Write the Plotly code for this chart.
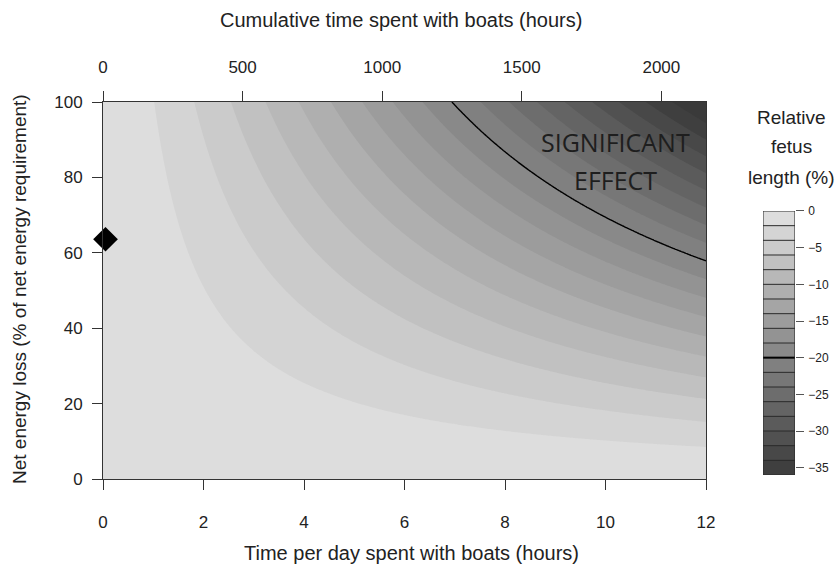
import numpy as np
import plotly.graph_objects as go

# ---------------- data ----------------
x_ticks = [0, 2, 4, 6, 8, 10, 12]                 # time per day (h)
y_ticks = [0, 20, 40, 60, 80, 100]                # net energy loss (%)
top_ticks = [0, 500, 1000, 1500, 2000]            # cumulative hours
cbar_ticks = [0, -5, -10, -15, -20, -25, -30, -35]
season_days = 180                                 # 12 h/day <-> 2160 h on top axis
level_step = 2
z_low, z_high = -36, 0
signif_level = -20
# surface model fitted to the band crossings:
# relative length = -coef * (hours * loss / 100) ** power
coef = 1.955
power = 1.2
obs_time = [0.05]
obs_loss = [63.6]

# ---------------- surface on a grid ----------------
gx = np.linspace(0, 12, 361)
gy = np.linspace(0, 100, 301)
GX, GY = np.meshgrid(gx, gy)
Z = -coef * (GX * GY / 100.0) ** power

gray = [[0.0, "rgb(58,58,58)"], [1.0, "rgb(226,226,226)"]]
FONT = "Liberation Sans, Arial, sans-serif"
AX = "#333333"

fig = go.Figure()
fig.add_trace(go.Contour(
    x=gx, y=gy, z=Z, colorscale=gray, zmin=z_low, zmax=z_high,
    contours=dict(start=z_low, end=z_high, size=level_step,
                  coloring="fill", showlines=False),
    line=dict(width=0), showscale=False, hoverinfo="skip"))
fig.add_trace(go.Contour(
    x=gx, y=gy, z=Z,
    contours=dict(start=signif_level, end=signif_level, size=1,
                  coloring="lines"),
    colorscale=[[0, "black"], [1, "black"]],
    line=dict(width=1.4, color="black"), showscale=False, hoverinfo="skip"))
fig.add_trace(go.Scatter(
    x=obs_time, y=obs_loss, mode="markers",
    marker=dict(symbol="diamond", size=19, color="black"),
    cliponaxis=False, hoverinfo="skip", showlegend=False))
# invisible trace carrying the top (cumulative) axis
fig.add_trace(go.Scatter(
    x=[0, 12 * season_days], y=[0, 0], xaxis="x2", yaxis="y",
    mode="markers", marker=dict(opacity=0), hoverinfo="skip",
    showlegend=False))

# ---------------- manual stepped colour bar ----------------
centers = [v + level_step / 2 for v in range(z_low, z_high, level_step)]
fig.add_trace(go.Heatmap(
    x=[0], y=centers, z=[[c] for c in centers], colorscale=gray,
    zmin=z_low, zmax=z_high, showscale=False, xaxis="x3", yaxis="y3",
    hoverinfo="skip"))
shapes = []
for lv in range(z_low + level_step, z_high, level_step):
    shapes.append(dict(type="line", xref="x3", yref="y3", x0=-0.5, x1=0.5,
                       y0=lv, y1=lv,
                       line=dict(color="black" if lv == signif_level else "#2a2a2a",
                                 width=2 if lv == signif_level else 1)))
shapes.append(dict(type="rect", xref="x3", yref="y3", x0=-0.5, x1=0.5,
                   y0=z_low, y1=z_high, line=dict(color="#2a2a2a", width=1)))

axis_common = dict(showgrid=False, zeroline=False, showline=True,
                   linecolor=AX, linewidth=1, ticks="outside", ticklen=10,
                   automargin=False,
                   tickcolor=AX, tickfont=dict(family=FONT, size=17, color="#222"))

fig.update_layout(
    width=836, height=572, autosize=False,
    margin=dict(l=103, r=2, t=102, b=93),
    paper_bgcolor="white", plot_bgcolor="white",
    showlegend=False,
    xaxis=dict(axis_common, domain=[0, 0.8249], range=[0, 12],
               tickvals=x_ticks, mirror=True, anchor="y",
               ticklabelstandoff=18),
    xaxis2=dict(axis_common, overlaying="x", side="top", anchor="y",
                range=[0, 12 * season_days], tickvals=top_ticks,
                domain=[0, 0.8249], ticklabelstandoff=11),
    yaxis=dict(axis_common, domain=[0, 1], range=[0, 100],
               tickvals=y_ticks, mirror=True, anchor="x",
               ticklabelstandoff=6),
    xaxis3=dict(domain=[0.9029, 0.9466], range=[-0.5, 0.5], visible=False,
                anchor="y3", fixedrange=True),
    yaxis3=dict(domain=[0.0106, 0.7109], range=[z_low, z_high], side="right",
                anchor="x3", showgrid=False, zeroline=False, showline=False,
                ticks="outside", ticklen=8, tickcolor="#555", automargin=False,
                tickvals=cbar_ticks, ticklabelstandoff=2,
                tickfont=dict(family=FONT, size=12, color="#222")),
    shapes=shapes,
)

ann = [
    dict(text="Cumulative time spent with boats (hours)", x=0.4077, y=1.2175,
         xref="paper", yref="paper", font=dict(family=FONT, size=20)),
    dict(text="Time per day spent with boats (hours)", x=0.4227, y=-0.196,
         xref="paper", yref="paper", font=dict(family=FONT, size=20)),
    dict(text="Net energy loss (% of net energy requirement)", x=-0.1135,
         y=0.504, xref="paper", yref="paper", textangle=-90,
         font=dict(family=FONT, size=19)),
    dict(text="SIGNIFICANT", x=10.19, y=89.4, xref="x", yref="y",
         font=dict(family="Open Sans, sans-serif", size=25, color="#1e1e1e")),
    dict(text="EFFECT", x=10.19, y=79.3, xref="x", yref="y",
         font=dict(family="Open Sans, sans-serif", size=25, color="#1e1e1e")),
    dict(text="Relative", x=0.9425, y=0.960, xref="paper", yref="paper",
         font=dict(family=FONT, size=19)),
    dict(text="fetus", x=0.9425, y=0.881, xref="paper", yref="paper",
         font=dict(family=FONT, size=19)),
    dict(text="length (%)", x=0.9425, y=0.801, xref="paper", yref="paper",
         font=dict(family=FONT, size=19)),
]
for a in ann:
    a.update(showarrow=False, xanchor="center", yanchor="middle")
    a["font"].setdefault("color", "#222")
fig.update_layout(annotations=ann)

# remove the browser's default 8px body margin so the figure sits at (0,0)
fig.write_html("out.html",
               config={"displayModeBar": False},
               post_script="document.body.style.margin='0';"
                           "document.body.style.overflow='hidden';")
